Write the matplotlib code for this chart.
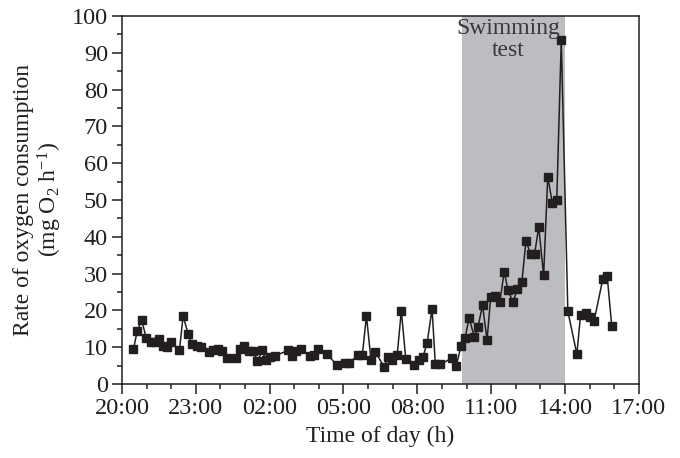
import numpy as np
import matplotlib
matplotlib.use("Agg")
import matplotlib.pyplot as plt
from matplotlib.ticker import MultipleLocator

plt.rcParams['font.family'] = ['Liberation Serif', 'DejaVu Serif']
plt.rcParams['mathtext.fontset'] = 'custom'
plt.rcParams['mathtext.rm'] = 'Liberation Serif'
plt.rcParams['mathtext.it'] = 'Liberation Serif:italic'

# clock time of each measurement and O2 consumption (mg O2 h-1)
clock = ["20:28", "20:37", "20:48", "20:59", "21:10", "21:20", "21:31", "21:40",
         "21:50", "22:00", "22:20", "22:29", "22:41", "22:50", "23:02", "23:13",
         "23:32", "23:43", "23:53", "00:04", "00:17", "00:38", "00:47", "00:58",
         "01:10", "01:20", "01:30", "01:42", "01:51", "02:01", "02:14", "02:45",
         "02:55", "03:05", "03:16", "03:38", "03:48", "03:58", "04:20", "04:43",
         "05:04", "05:14", "05:36", "05:46", "05:56", "06:07", "06:17", "06:39",
         "06:49", "06:59", "07:11", "07:21", "07:32", "07:52", "08:05", "08:14",
         "08:24", "08:36", "08:44", "08:56", "09:25", "09:35", "09:47", "09:57",
         "10:06", "10:19", "10:28", "10:39", "10:50", "10:59", "11:10", "11:21",
         "11:32", "11:41", "11:53", "12:04", "12:15", "12:25", "12:36", "12:46",
         "12:56", "13:08", "13:18", "13:29", "13:40", "13:51", "14:07", "14:29",
         "14:38", "14:51", "15:01", "15:11", "15:32", "15:43", "15:54"]
rate = [9.5, 14.3, 17.4, 12.5, 11.3, 11.5, 12.3, 10.4,
        10.0, 11.5, 9.1, 18.5, 13.7, 10.9, 10.3, 10.0,
        8.6, 9.2, 9.5, 9.0, 7.0, 7.1, 9.4, 10.3,
        8.9, 8.9, 6.2, 9.1, 6.4, 7.3, 7.7, 9.1,
        7.6, 8.9, 9.5, 7.7, 7.8, 9.4, 8.2, 5.2,
        5.7, 5.7, 7.9, 7.9, 18.5, 6.6, 8.8, 4.7,
        7.3, 6.4, 7.9, 19.9, 6.7, 5.2, 6.4, 7.4,
        11.2, 20.4, 5.3, 5.3, 7.1, 5.0, 10.4, 12.6,
        18.0, 12.8, 15.5, 21.4, 12.0, 23.6, 23.8, 22.2,
        30.5, 25.5, 22.3, 25.7, 27.8, 38.9, 35.3, 35.3,
        42.7, 29.5, 56.3, 49.3, 49.9, 93.5, 19.8, 8.1,
        18.7, 19.4, 18.3, 17.1, 28.4, 29.3, 15.8]

swim_start, swim_end = "09:48", "14:00"
tick_labels = ["20:00", "23:00", "02:00", "05:00", "08:00", "11:00", "14:00", "17:00"]


def hours(t):
    # hours elapsed since 20:00
    h, m = map(int, t.split(":"))
    h = h + m / 60
    return h - 20 if h >= 20 else h + 4


x = np.array([hours(t) for t in clock])
ink = '#231f20'

fig = plt.figure(figsize=(6.8, 4.58), dpi=100)
ax = fig.add_axes([0.1794, 0.1616, 0.760, 0.8035])

ax.axvspan(hours(swim_start), hours(swim_end), color='#bcbdc0', lw=0, zorder=0)
ax.plot(x, rate, '-s', color=ink, lw=1.1, ms=5.5, mfc=ink, mec=ink)

ax.text((hours(swim_start) + hours(swim_end)) / 2 - 0.2, 99.5, "Swimming\ntest",
        ha='center', va='top', fontsize=17, color='#3a3738', linespacing=1.05)

ax.set_xlim(0, 21)
ax.set_ylim(0, 100)
ax.set_xticks([hours(t) for t in tick_labels])
ax.set_xticklabels(tick_labels)
ax.xaxis.set_minor_locator(MultipleLocator(1))
ax.yaxis.set_major_locator(MultipleLocator(10))
ax.yaxis.set_minor_locator(MultipleLocator(5))
ax.tick_params(which='major', direction='out', length=7, width=1.1, labelsize=17.5,
               colors=ink, pad=3)
ax.tick_params(which='minor', direction='out', length=3.5, width=1.1, colors=ink)
for s in ax.spines.values():
    s.set_color(ink)
    s.set_linewidth(1.1)

ax.set_xlabel("Time of day (h)", fontsize=17, color=ink, labelpad=5)
ax.set_ylabel("Rate of oxygen consumption\n(mg O$_2$ h$^{-1}$)", fontsize=17,
              color=ink, labelpad=6, linespacing=1.05)

fig.savefig("out.png", dpi=100)
